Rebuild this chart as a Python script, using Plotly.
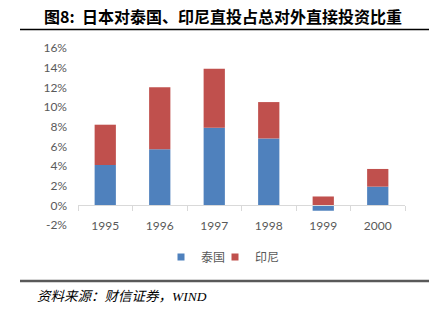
import plotly.graph_objects as go

years = ["1995", "1996", "1997", "1998", "1999", "2000"]
thailand = [0.041, 0.057, 0.079, 0.068, -0.0055, 0.019]
indonesia = [0.041, 0.063, 0.060, 0.037, 0.009, 0.018]
series_names = ["泰国", "印尼"]
colors = ["#4F81BD", "#C0504D"]
ytick_vals = [-0.02, 0.0, 0.02, 0.04, 0.06, 0.08, 0.10, 0.12, 0.14, 0.16]
ytick_text = ["-2%", "0%", "2%", "4%", "6%", "8%", "10%", "12%", "14%", "16%"]
title_text = "图8:  日本对泰国、印尼直投占总对外直接投资比重"
source_text = "资料来源：财信证券，WIND"

W, H = 438, 321
ml, mr, mt, mb = 78, 33, 48, 96
pw, ph = W - ml - mr, H - mt - mb
ymin, ymax = -0.02, 0.16


def px2x(px):
    return (px - ml) / pw


def py2y(py):
    return (H - mb - py) / ph


legend_ids = ["legend", "legend2"]
legend_px = [161, 215]

fig = go.Figure()
for name, vals, c, lid in zip(series_names, [thailand, indonesia], colors, legend_ids):
    fig.add_trace(go.Bar(x=years, y=vals, name=name, marker=dict(color=c, line=dict(width=0)),
                         showlegend=False, legendgroup=name))
    fig.add_trace(go.Scatter(x=[None], y=[None], mode="markers", name=name, legendgroup=name,
                             legend=lid, marker=dict(symbol="square", size=7, color=c)))

legend_style = dict(orientation="h", xanchor="left", y=py2y(257), yanchor="middle",
                    font=dict(family="Noto Sans CJK SC", size=12, color="#595959"),
                    itemwidth=30, bgcolor="rgba(0,0,0,0)")

fig.update_layout(
    width=W, height=H,
    margin=dict(l=ml, r=mr, t=mt, b=mb),
    paper_bgcolor="white", plot_bgcolor="white",
    barmode="relative", bargap=0.61,
    font=dict(family="Lato", size=12, color="#595959"),
    xaxis=dict(type="category", range=[-0.5, 5.5], anchor="free",
               position=(0 - ymin) / (ymax - ymin),
               showline=True, linecolor="#D9D9D9", linewidth=1,
               ticks="outside", tickson="boundaries", ticklen=5, tickcolor="#D9D9D9",
               ticklabelstandoff=9, showgrid=False, zeroline=False,
               tickfont=dict(family="Lato", size=12, color="#595959")),
    yaxis=dict(range=[ymin, ymax], tickvals=ytick_vals, ticktext=ytick_text,
               showgrid=False, zeroline=False, showline=False, ticks="",
               ticklabelstandoff=10,
               tickfont=dict(family="Lato", size=12, color="#595959")),
    legend=dict(x=px2x(legend_px[0]), **legend_style),
    legend2=dict(x=px2x(legend_px[1]), **legend_style),
    shapes=[
        dict(type="line", xref="paper", yref="paper", x0=px2x(20), x1=px2x(429),
             y0=py2y(29.5), y1=py2y(29.5), line=dict(color="#000000", width=1.5)),
        dict(type="line", xref="paper", yref="paper", x0=px2x(20), x1=px2x(429),
             y0=py2y(281), y1=py2y(281), line=dict(color="#595959", width=2.5)),
    ],
    annotations=[
        dict(text="<b>" + title_text + "</b>", xref="paper", yref="paper", x=px2x(222.5), y=py2y(16),
             xanchor="center", yanchor="middle", showarrow=False,
             font=dict(family="Noto Sans CJK SC", size=16, color="#000000")),
        dict(text=source_text, xref="paper", yref="paper", x=px2x(121.5), y=py2y(296),
             xanchor="center", yanchor="middle", showarrow=False,
             font=dict(family="Liberation Serif, Noto Sans CJK SC", size=13.5, color="#000000",
                       style="italic")),
    ],
)

fig.write_html("out.html")
